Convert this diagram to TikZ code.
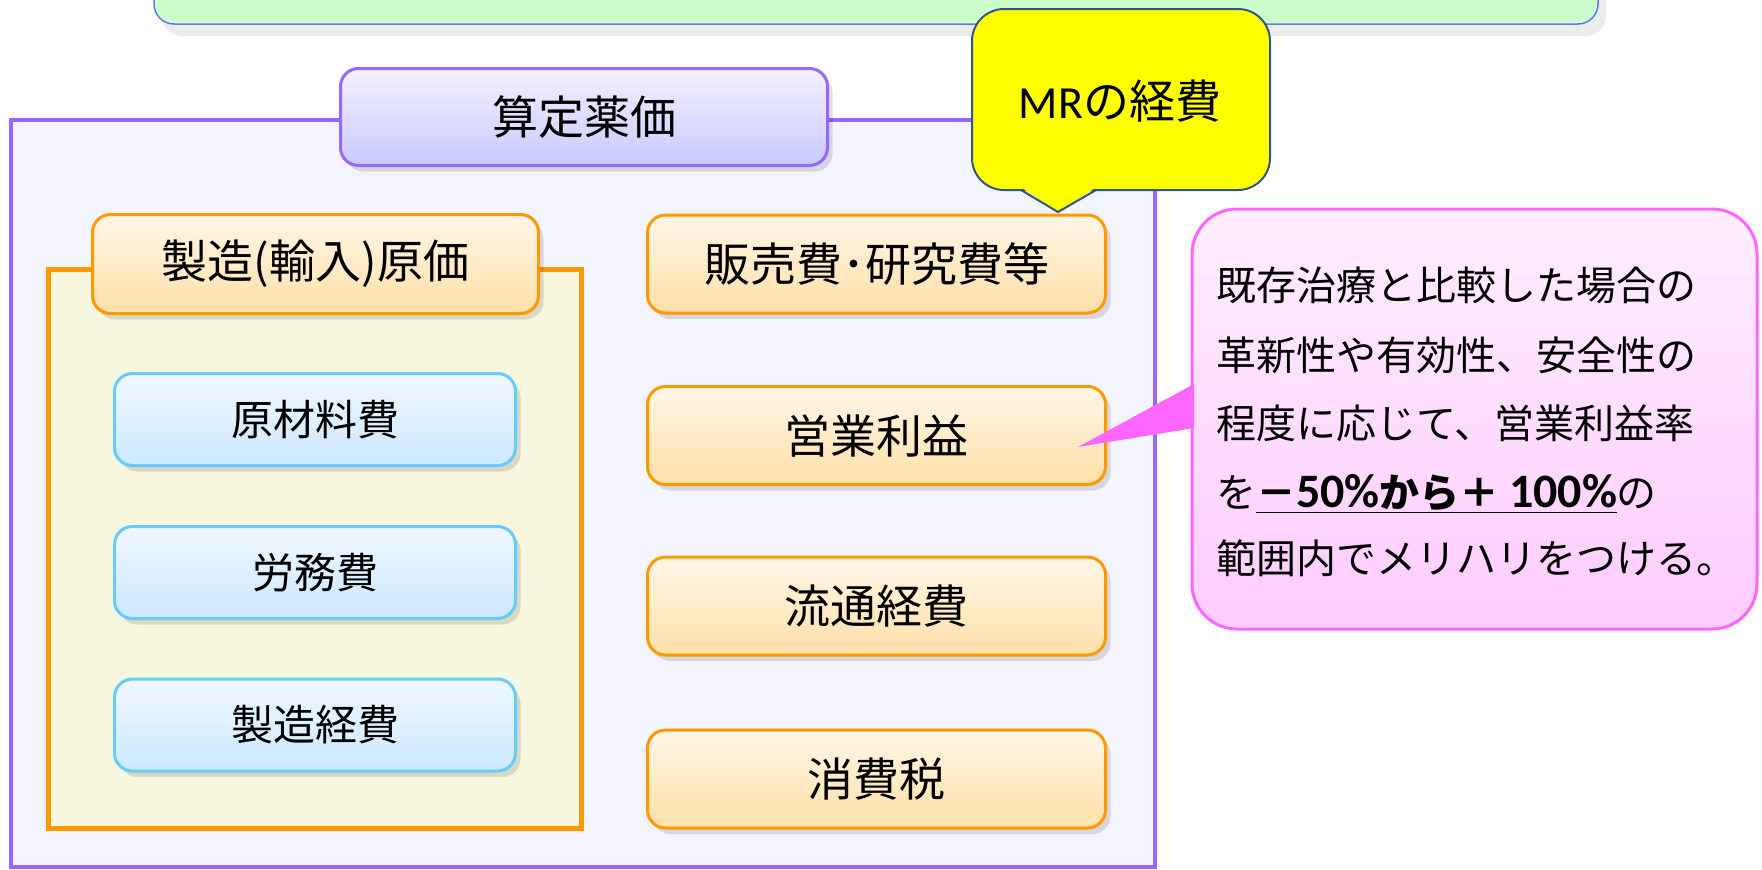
\documentclass[tikz,border=0pt]{standalone}
\usepackage{fontspec}
\setmainfont{Noto Sans CJK JP}
\newfontfamily\lat{Carlito}
\newfontfamily\latb{Carlito}[Scale=1.2]
\usetikzlibrary{shadows}
\definecolor{grnfill}{HTML}{CCFFCC}
\definecolor{grnline}{HTML}{6677EE}
\definecolor{purline}{HTML}{9966FF}
\definecolor{purfill}{HTML}{F4F4FD}
\definecolor{purtop}{HTML}{F3F1FF}
\definecolor{purbot}{HTML}{C9C9FF}
\definecolor{orline}{HTML}{FF9900}
\definecolor{ortop}{HTML}{FFF6E8}
\definecolor{orbot}{HTML}{FFE0A8}
\definecolor{cream}{HTML}{F7F6DE}
\definecolor{blline}{HTML}{66CCFF}
\definecolor{bltop}{HTML}{F0F8FF}
\definecolor{blbot}{HTML}{CCE8FF}
\definecolor{yelline}{HTML}{335588}
\definecolor{yelfill}{HTML}{FFFF00}
\definecolor{pkline}{HTML}{FF66FF}
\definecolor{pktop}{HTML}{FFEEFF}
\definecolor{pkbot}{HTML}{FFCCFF}
\tikzset{
  shad/.style={drop shadow={shadow xshift=5pt, shadow yshift=-6pt, opacity=0.12, fill=black}},
  rbox/.style={draw, rounded corners=18pt, line width=3pt, inner sep=0pt, shad},
  titlebox/.style={rbox, draw=purline, top color=purtop, bottom color=purbot,
    font=\fontsize{46}{50}\selectfont},
  obox/.style={rbox, draw=orline, top color=ortop, bottom color=orbot,
    font=\fontsize{46}{50}\selectfont},
  bbox/.style={rbox, draw=blline, top color=bltop, bottom color=blbot,
    minimum width=401pt, minimum height=92pt, font=\fontsize{42}{46}\selectfont},
  rcol/.style={obox, minimum width=458pt, minimum height=98pt},
  ptext/.style={anchor=base west, inner sep=0pt, font=\fontsize{40}{44}\selectfont},
}
\begin{document}
\begin{tikzpicture}[x=1pt,y=-1pt]
\useasboundingbox (0,0) rectangle (1762,870);
% top green box
\draw[grnline, line width=1.5pt, fill=grnfill, rounded corners=20pt,
  drop shadow={shadow xshift=8pt, shadow yshift=-12pt, opacity=0.08, fill=black}]
  (154,-40) rectangle (1598,24);
% outer purple frame
\draw[purline, line width=4pt, fill=purfill] (11,120) rectangle (1155,867);
\node[titlebox, minimum width=487pt, minimum height=97pt] (title) at (584,117) {算定薬価};
% orange container
\draw[orline, line width=5pt, fill=cream] (48.5,269) rectangle (581,828);
\node[obox, minimum width=446pt, minimum height=99pt] (seizo) at (315.5,264) {製造(輸入)原価};
\node[bbox] (genzai) at (315,419.5) {原材料費};
\node[bbox] (romu) at (315,572.5) {労務費};
\node[bbox] (keihi) at (315,725) {製造経費};
% right column
\node[rcol] (hanbai) at (876.5,264) {販売費･研究費等};
\node[rcol] (eigyo) at (876.5,435.5) {営業利益};
\node[rcol] (ryutsu) at (876.5,606) {流通経費};
\node[rcol] (shohi) at (876.5,779) {消費税};
% yellow callout
\draw[yelline, line width=2pt, fill=yelfill, rounded corners=32pt] (972,9) rectangle (1270,190);
\fill[yelfill] (1019,186) -- (1058,212) -- (1098,186) -- cycle;
\draw[yelline, line width=2pt, line join=round] (1021,190) -- (1058,212) -- (1096,190);
\node[font=\fontsize{46}{50}\selectfont, inner sep=0pt] (mr) at (1120,101) {{\lat MR}の経費};
% pink callout
\path[draw=pkline, line width=3pt, top color=pktop, bottom color=pkbot, rounded corners=45pt]
  (1192,209) rectangle (1757,629);
\fill[pkline] (1194,384) -- (1078,447) -- (1194,428) -- cycle;
\node[ptext] (p1) at (1216,300) {既存治療と比較した場合の};
\node[ptext] (p2) at (1216,370) {革新性や有効性、安全性の};
\node[ptext] (p3) at (1216,438) {程度に応じて、営業利益率};
\node[ptext] (p4) at (1216,507) {を\underline{\bfseries －{\latb 50\%}から＋ {\latb 100\%}}の};
\node[ptext] (p5) at (1216,573) {範囲内でメリハリをつける。};
\end{tikzpicture}
\end{document}
